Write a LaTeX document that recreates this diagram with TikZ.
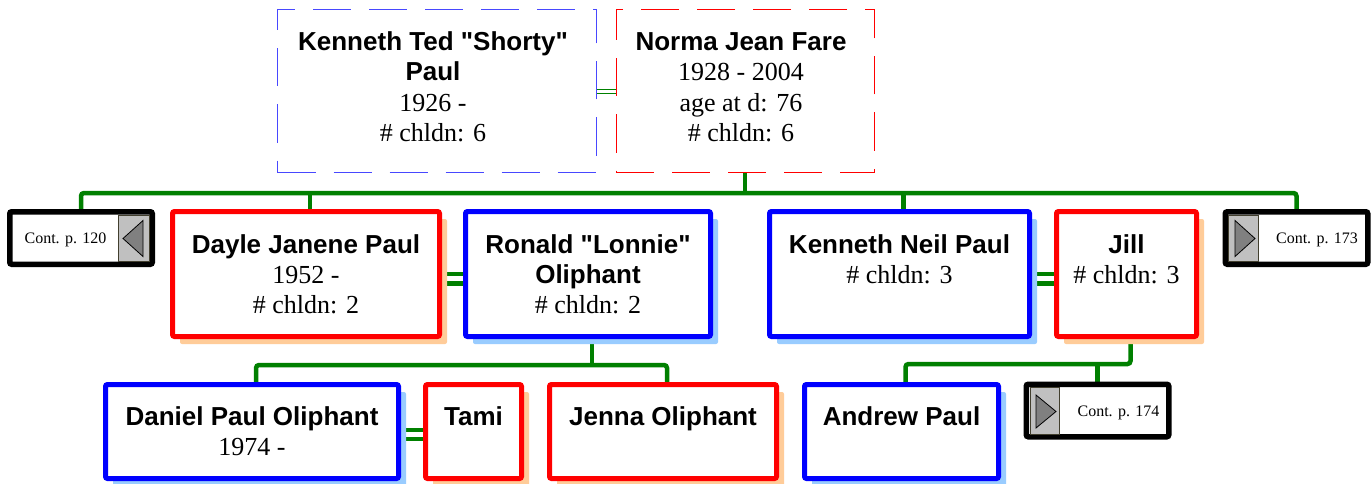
\documentclass[tikz,border=0pt]{standalone}
\usepackage{fontspec}
\setmainfont{Liberation Serif}
\newfontfamily\namefont{Liberation Sans}[Ligatures=TeXOff]
\newcommand\nm{\namefont\bfseries}
\usetikzlibrary{shadows,backgrounds}
\definecolor{gr}{RGB}{0,128,0}
\definecolor{shM}{RGB}{153,204,255}
\definecolor{shF}{RGB}{255,204,153}
\definecolor{dblue}{RGB}{72,72,255}
\definecolor{contgrey}{RGB}{192,192,192}
\definecolor{arrgrey}{RGB}{128,128,128}
\begin{document}
\begin{tikzpicture}[x=1pt,y=-1pt,
  pbox/.style={rectangle, line width=5pt, rounded corners=2pt, fill=white, inner sep=0pt, outer sep=0pt},
  male/.style={pbox, draw=blue, drop shadow={shadow xshift=7.5pt, shadow yshift=-7.5pt, fill=shM, opacity=1}},
  female/.style={pbox, draw=red, drop shadow={shadow xshift=7.5pt, shadow yshift=-7.5pt, fill=shF, opacity=1}},
  topbox/.style={rectangle, line width=1pt, dash pattern=on 38pt off 18pt, fill=white, inner sep=0pt, outer sep=0pt, minimum height=163pt},
  ptext/.style={anchor=base, align=center, inner sep=0pt, font=\fontsize{26}{30}\selectfont},
  conn/.style={draw=gr, line width=4.5pt, rounded corners=3pt},
  marr/.style={draw=gr, line width=4.5pt},
  thinmarr/.style={draw=gr, line width=1pt},
  contbox/.style={rectangle, draw=black, line width=5.5pt, rounded corners=2pt, fill=white, inner sep=0pt, outer sep=0pt, minimum width=142.5pt, minimum height=52.5pt},
  conttext/.style={anchor=base, inner sep=0pt, font=\fontsize{16}{19}\selectfont},
  greypart/.style={fill=contgrey, draw=black!70!olive, line width=0.6pt},
  tri/.style={fill=arrgrey, draw=black, line width=0.8pt, line join=miter},
]
\useasboundingbox (0,0) rectangle (1372,484);

% top row (parents); text nodes are placed by the baseline of their last line
\node[topbox, draw=dblue, minimum width=319pt] (ktp) at (437,91) {};
\node[topbox, draw=red, minimum width=258pt] (njf) at (745,91) {};
\node[ptext] (ktpT) at (433,141) {{\nm Kenneth Ted "Shorty"}\\{\nm Paul}\\1926 -\\\# chldn: 6};
\node[ptext] (njfT) at (741,141) {{\nm Norma Jean Fare}\\1928 - 2004\\age at d: 76\\\# chldn: 6};

% row 2
\node[female, minimum width=267pt, minimum height=125pt] (day) at (306,274) {};
\node[male, minimum width=245pt, minimum height=125pt] (ron) at (588,274) {};
\node[male, minimum width=260pt, minimum height=125pt] (knp) at (899.5,274) {};
\node[female, minimum width=140pt, minimum height=125pt] (jil) at (1126.5,274) {};
\node[ptext] (dayT) at (306,313) {{\nm Dayle Janene Paul}\\1952 -\\\# chldn: 2};
\node[ptext] (ronT) at (588,313) {{\nm Ronald "Lonnie"}\\{\nm Oliphant}\\\# chldn: 2};
\node[ptext] (knpT) at (899.5,283) {{\nm Kenneth Neil Paul}\\\# chldn: 3};
\node[ptext] (jilT) at (1126.5,283) {{\nm Jill}\\\# chldn: 3};

% row 3
\node[male, minimum width=293pt, minimum height=94pt] (dan) at (252,431.5) {};
\node[female, minimum width=96pt, minimum height=94pt] (tam) at (473.5,431.5) {};
\node[female, minimum width=227pt, minimum height=94pt] (jen) at (663,431.5) {};
\node[male, minimum width=194pt, minimum height=94pt] (and) at (901.5,431.5) {};
\node[ptext] (danT) at (252,455) {{\nm Daniel Paul Oliphant}\\1974 -};
\node[ptext] (tamT) at (473.5,425) {{\nm Tami}};
\node[ptext] (jenT) at (663,425) {{\nm Jenna Oliphant}};
\node[ptext] (andT) at (901.5,425) {{\nm Andrew Paul}};

% continuation boxes
\node[contbox] (c120) at (81,238) {};
\node[contbox] (c173) at (1296.5,238) {};
\node[contbox] (c174) at (1097.5,410.5) {};
\fill[greypart] (118,214.8) rectangle (148.8,261.2);
\draw[tri] (143,220.5) -- (123,238.5) -- (143,256.5) -- cycle;
\fill[greypart] (1228,214.8) rectangle (1258,261.2);
\draw[tri] (1235,220.5) -- (1255,238.5) -- (1235,256.5) -- cycle;
\fill[greypart] (1030,387.2) rectangle (1059,433.8);
\draw[tri] (1036,395) -- (1056,411.5) -- (1036,428) -- cycle;
\node[conttext] (c120T) at (65.5,243) {Cont. p. 120};
\node[conttext] (c173T) at (1317,243) {Cont. p. 173};
\node[conttext] (c174T) at (1118.5,416) {Cont. p. 174};

\begin{pgfonlayer}{background}
\fill[white] (0,0) rectangle (1372,484);
\coordinate (b1) at (745,193);
\coordinate (b2) at (592,365);
\coordinate (b3) at (1097.5,364);
% parents to children
\draw[conn] (njf.south) -- (b1);
\draw[conn] (c120.north) |- (b1) -| (c173.north);
\draw[conn] ([xshift=4pt]day.north) -- ([xshift=4pt]day.north |- b1);
\draw[conn] ([xshift=4pt]knp.north) -- ([xshift=4pt]knp.north |- b1);
% Dayle + Ronald children
\draw[conn] ([xshift=4pt]ron.south) -- (b2);
\draw[conn] ([xshift=4pt]dan.north) |- (b2) -| ([xshift=4pt]jen.north);
% Kenneth + Jill children
\draw[conn] ([xshift=4pt]jil.south) |- (b3) -| ([xshift=4pt]and.north);
\draw[conn] (b3) -- (c174.north);
% marriages
\draw[thinmarr] ([yshift=1.7pt]ktp.east) -- ([yshift=1.7pt]njf.west);
\draw[thinmarr] ([yshift=-3pt]ktp.east) -- ([yshift=-3pt]njf.west);
\draw[marr] (day.east) -- (ron.west);
\draw[marr] ([yshift=-9.5pt]day.east) -- ([yshift=-9.5pt]ron.west);
\draw[marr] (knp.east) -- (jil.west);
\draw[marr] ([yshift=-9.5pt]knp.east) -- ([yshift=-9.5pt]jil.west);
\draw[marr] ([yshift=1.5pt]dan.east) -- ([yshift=1.5pt]tam.west);
\draw[marr] ([yshift=-7.5pt]dan.east) -- ([yshift=-7.5pt]tam.west);
\end{pgfonlayer}
\end{tikzpicture}
\end{document}
